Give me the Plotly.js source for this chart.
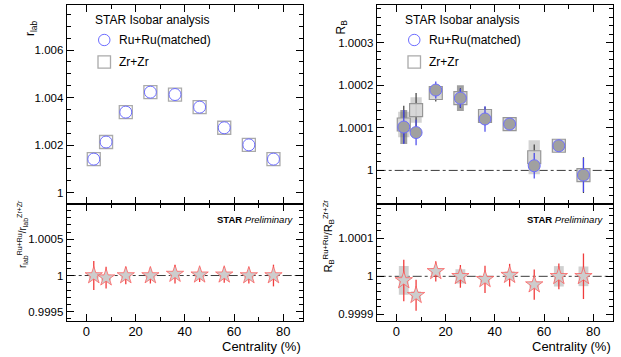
<!DOCTYPE html>
<html>
<head>
<meta charset="utf-8">
<script src="https://cdn.plot.ly/plotly-3.0.1.min.js"></script>
<style>html,body{margin:0;padding:0;background:#fff}#plot{width:621px;height:357px}</style>
</head>
<body>
<div id="plot"></div>
<script>
// ---- data ----
var centrality = [3, 8, 16, 26, 36, 46, 56, 66, 76];
var xTicks = [0, 20, 40, 60, 80];

// r_lab (top-left)
var rlabRu = [1.00141, 1.00213, 1.00339, 1.00423, 1.00413, 1.00360, 1.00273, 1.00201, 1.00141];
var rlabZr = [1.00141, 1.00213, 1.00339, 1.00423, 1.00413, 1.00360, 1.00273, 1.00201, 1.00141];

// R_B (top-right)
var rbRu = [1.000102, 1.000089, 1.000189, 1.000170, 1.000121, 1.000109, 1.000011, 1.000058, 0.999989];
var rbRuErr = [0.000040, 0.000030, 0.000020, 0.000022, 0.000030, 0.000012, 0.000030, 0.000012, 0.000040];
var rbRuSys = [0.000040, 0.000012, 0.000010, 0.000030, 0.000010, 0.000008, 0.000012, 0.000010, 0.000010];
var rbZr = [1.000108, 1.000142, 1.000182, 1.000170, 1.000128, 1.000109, 1.000031, 1.000058, 0.999989];
var rbZrErr = [0.000044, 0.000040, 0.000020, 0.000023, 0.000022, 0.000012, 0.000030, 0.000015, 0.000042];
var rbZrSys = [0.000030, 0.000030, 0.000010, 0.000012, 0.000012, 0.000010, 0.000040, 0.000010, 0.000010];

// ratio r_lab (bottom-left)
var rlabRatio = [1.00000, 0.99997, 1.00000, 1.00000, 1.00002, 1.00001, 1.00001, 1.00000, 1.00000];
var rlabRatioErr = [0.00020, 0.00015, 0.00012, 0.00011, 0.00013, 0.00010, 0.00011, 0.00011, 0.00015];
var rlabRatioSys = [0.00004, 0.00004, 0.00003, 0.00003, 0.00003, 0.00003, 0.00003, 0.00003, 0.00003];

// ratio R_B (bottom-right)
var rbRatio = [0.999989, 0.999950, 1.000013, 1.000000, 0.999992, 1.000003, 0.999978, 1.000000, 1.000000];
var rbRatioErr = [0.000055, 0.000041, 0.000027, 0.000030, 0.000036, 0.000030, 0.000040, 0.000034, 0.000060];
var rbRatioSys = [0.000038, 0.000010, 0.000008, 0.000019, 0.000008, 0.000010, 0.000008, 0.000027, 0.000026];

// ---- helpers ----
function diff(v, s){ return v.map(function(a,i){return a - s[i];}); }
function twice(s){ return s.map(function(a){return 2*a;}); }

var W = 621, H = 357;
function px(x){ return x / W; }
function py(y){ return 1 - y / H; }

var FONT = 'Liberation Sans, Arial, Helvetica, sans-serif';
var blue = 'rgb(110,110,255)';
var redErr = 'rgb(240,60,60)';

var traces = [];

// top-left
traces.push({x: centrality, y: rlabZr, xaxis:'x2', yaxis:'y2', type:'scatter', mode:'markers',
  marker:{symbol:'square', size:13, color:'rgba(255,255,255,0)', line:{color:'rgb(170,170,170)', width:1.3}}, showlegend:false, hoverinfo:'skip'});
traces.push({x: centrality, y: rlabRu, xaxis:'x2', yaxis:'y2', type:'scatter', mode:'markers',
  marker:{symbol:'circle', size:12, color:'rgba(255,255,255,0)', line:{color:blue, width:1}}, showlegend:false, hoverinfo:'skip'});

// top-right: systematic boxes
traces.push({x: centrality, y: twice(rbZrSys), base: diff(rbZr, rbZrSys), xaxis:'x4', yaxis:'y4', type:'bar',
  width: 4.6, marker:{color:'rgba(200,200,200,0.8)', line:{width:0}}, showlegend:false, hoverinfo:'skip'});
traces.push({x: centrality, y: twice(rbRuSys), base: diff(rbRu, rbRuSys), xaxis:'x4', yaxis:'y4', type:'bar',
  width: 2.8, marker:{color:'rgba(120,120,120,0.7)', line:{width:0}}, showlegend:false, hoverinfo:'skip'});
traces.push({x: centrality, y: rbZr, xaxis:'x4', yaxis:'y4', type:'scatter', mode:'markers',
  error_y:{type:'data', array: rbZrErr, visible:true, width:0, thickness:1.2, color:'rgb(60,60,60)'},
  marker:{symbol:'square', size:13, color:'rgba(215,215,215,0.9)', line:{color:'rgb(150,150,150)', width:1.2}}, showlegend:false, hoverinfo:'skip'});
traces.push({x: centrality, y: rbRu, xaxis:'x4', yaxis:'y4', type:'scatter', mode:'markers',
  error_y:{type:'data', array: rbRuErr, visible:true, width:0, thickness:1.2, color:'rgb(70,70,235)'},
  marker:{symbol:'circle', size:12, color:'rgb(160,160,160)', line:{color:blue, width:1}}, showlegend:false, hoverinfo:'skip'});

// bottom-left
traces.push({x: centrality, y: twice(rlabRatioSys), base: diff(rlabRatio, rlabRatioSys), xaxis:'x', yaxis:'y', type:'bar',
  width: 4, marker:{color:'rgba(200,200,200,0.8)', line:{width:0}}, showlegend:false, hoverinfo:'skip'});
traces.push({x: centrality, y: rlabRatio, xaxis:'x', yaxis:'y', type:'scatter', mode:'markers',
  error_y:{type:'data', array: rlabRatioErr, visible:true, width:0, thickness:1.3, color:redErr},
  marker:{symbol:'star', size:13, color:'rgb(205,205,205)', line:{color:'rgba(255,90,90,0.75)', width:1}}, showlegend:false, hoverinfo:'skip'});

// bottom-right
traces.push({x: centrality, y: twice(rbRatioSys), base: diff(rbRatio, rbRatioSys), xaxis:'x3', yaxis:'y3', type:'bar',
  width: 4, marker:{color:'rgba(200,200,200,0.85)', line:{width:0}}, showlegend:false, hoverinfo:'skip'});
traces.push({x: centrality, y: rbRatio, xaxis:'x3', yaxis:'y3', type:'scatter', mode:'markers',
  error_y:{type:'data', array: rbRatioErr, visible:true, width:0, thickness:1.3, color:redErr},
  marker:{symbol:'star', size:13, color:'rgb(205,205,205)', line:{color:'rgba(255,90,90,0.75)', width:1}}, showlegend:false, hoverinfo:'skip'});

// ---- layout ----
var xL = [px(66.7), px(303)];
var xR = [px(376.7), px(613)];
var yTop = [py(204), py(5)];
var yBot = [py(321), py(204)];
var xRange = [-8, 88];

function xAxis(domain, anchor, showLabels){
  return {domain: domain, anchor: anchor, range: xRange, tickvals: xTicks, ticktext: xTicks.map(String),
    showticklabels: showLabels, ticks:'inside', ticklen:7, tickwidth:1, tickcolor:'#000',
    minor:{dtick:10, tick0:0, ticks:'inside', ticklen:4, tickcolor:'#000'},
    showline:true, linecolor:'#000', linewidth:1, mirror:'allticks', showgrid:false, zeroline:false,
    ticklabelstandoff: -2,
    tickfont:{family:FONT, size:13, color:'#000'}, fixedrange:true};
}
function yAxis(domain, anchor, range, vals, texts, minor, tick0){
  return {domain: domain, anchor: anchor, range: range, tickvals: vals, ticktext: texts,
    ticks:'inside', ticklen:7, tickwidth:1, tickcolor:'#000',
    minor:{dtick:minor, tick0:tick0, ticks:'inside', ticklen:4, tickcolor:'#000'},
    showline:true, linecolor:'#000', linewidth:1, mirror:'allticks', showgrid:false, zeroline:false,
    tickfont:{family:FONT, size:11.5, color:'#000'}, fixedrange:true};
}

var layout = {
  width: W, height: H,
  margin: {l:0, r:0, t:0, b:0, pad:0},
  paper_bgcolor:'#fff', plot_bgcolor:'#fff',
  barmode:'overlay', showlegend:false,
  font:{family:FONT, color:'#000'},
  xaxis: xAxis(xL, 'y', true),
  yaxis: yAxis(yBot, 'x', [0.999372, 1.000988], [0.9995, 1, 1.0005], ['0.9995','1','1.0005'], 0.0001, 0.9995),
  xaxis2: xAxis(xL, 'y2', false),
  yaxis2: yAxis(yTop, 'x2', [0.99952, 1.0079], [1, 1.002, 1.004, 1.006], ['1','1.002','1.004','1.006'], 0.0005, 1),
  xaxis3: xAxis(xR, 'y3', true),
  yaxis3: yAxis(yBot, 'x3', [0.999882, 1.000191], [0.9999, 1, 1.0001], ['0.9999','1','1.0001'], 0.00002, 0.9999),
  xaxis4: xAxis(xR, 'y4', false),
  yaxis4: yAxis(yTop, 'x4', [0.999921, 1.000389], [1, 1.0001, 1.0002, 1.0003], ['1','1.0001','1.0002','1.0003'], 0.00002, 1),
  shapes: [],
  annotations: []
};

// reference lines at 1
[['x','y'],['x3','y3'],['x4','y4']].forEach(function(p){
  layout.shapes.push({type:'line', xref: p[0]+' domain', yref: p[1], x0:0, x1:1, y0:1, y1:1,
    line:{color:'rgb(60,60,60)', width:1, dash:'dashdot'}, layer:'below'});
});

// legends & labels for both panels
[0, 310].forEach(function(off){
  layout.annotations.push({xref:'paper', yref:'paper', x:px(93+off), y:py(20), xanchor:'left', yanchor:'middle',
    text:'STAR Isobar analysis', showarrow:false, font:{family:FONT, size:12, color:'#000'}});
  layout.annotations.push({xref:'paper', yref:'paper', x:px(117+off), y:py(40), xanchor:'left', yanchor:'middle',
    text:'Ru+Ru(matched)', showarrow:false, font:{family:FONT, size:12, color:'#000'}});
  layout.annotations.push({xref:'paper', yref:'paper', x:px(117+off), y:py(62), xanchor:'left', yanchor:'middle',
    text:'Zr+Zr', showarrow:false, font:{family:FONT, size:12, color:'#000'}});
  layout.shapes.push({type:'circle', xref:'paper', yref:'paper', x0:px(98.5+off), x1:px(110+off), y0:py(45.7), y1:py(34.3),
    line:{color:blue, width:1}});
  layout.shapes.push({type:'rect', xref:'paper', yref:'paper', x0:px(98+off), x1:px(110.5+off), y0:py(68.2), y1:py(55.8),
    line:{color:'rgb(170,170,170)', width:1.3}});
  layout.annotations.push({xref:'paper', yref:'paper', x:px(296+off), y:py(219), xanchor:'right', yanchor:'middle',
    text:'<b>STAR</b> <i>Preliminary</i>', showarrow:false, font:{family:FONT, size:9.5, color:'#000'}});
  layout.annotations.push({xref:'paper', yref:'paper', x:px(303+off), y:py(346), xanchor:'right', yanchor:'middle',
    text:'Centrality (%)', showarrow:false, font:{family:FONT, size:13, color:'#000'}});
});

// y axis titles
layout.annotations.push({xref:'paper', yref:'paper', x:px(31), y:py(18), xanchor:'center', yanchor:'top', textangle:-90,
  text:'r<sub>lab</sub>', showarrow:false, font:{family:FONT, size:12, color:'#000'}});
layout.annotations.push({xref:'paper', yref:'paper', x:px(341), y:py(18), xanchor:'center', yanchor:'top', textangle:-90,
  text:'R<sub>B</sub>', showarrow:false, font:{family:FONT, size:12, color:'#000'}});
layout.annotations.push({xref:'paper', yref:'paper', x:px(22), y:py(198), xanchor:'center', yanchor:'top', textangle:-90,
  text:'r<sub>lab</sub><sup>Ru+Ru</sup>/r<sub>lab</sub><sup>Zr+Zr</sup>', showarrow:false, font:{family:FONT, size:10, color:'#000'}});
layout.annotations.push({xref:'paper', yref:'paper', x:px(328), y:py(198), xanchor:'center', yanchor:'top', textangle:-90,
  text:'R<sub>B</sub><sup>Ru+Ru</sup>/R<sub>B</sub><sup>Zr+Zr</sup>', showarrow:false, font:{family:FONT, size:11, color:'#000'}});

Plotly.newPlot('plot', traces, layout, {staticPlot:true, displayModeBar:false});
</script>
</body>
</html>
